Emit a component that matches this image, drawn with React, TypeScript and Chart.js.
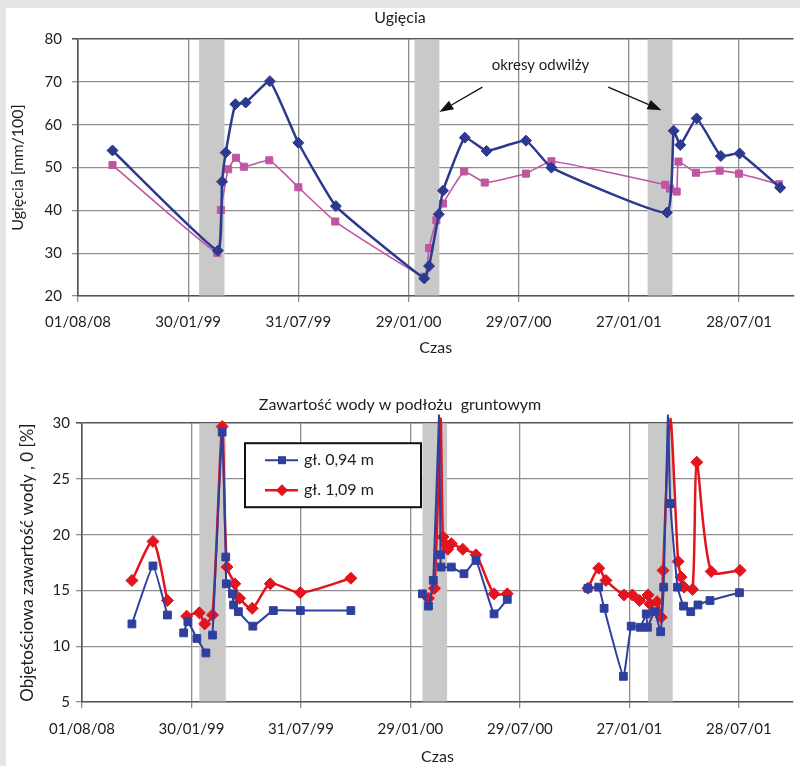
import React, { useEffect, useRef } from 'react';
import { Chart, registerables } from 'chart.js';

Chart.register(...registerables);

// ---------- shared x axis (days since 01/08/98) ----------
const TICK_DAYS = [0, 182, 364, 546, 728, 910, 1092];
const TICK_LABELS = ['01/08/08', '30/01/99', '31/07/99', '29/01/00', '29/07/00', '27/01/01', '28/07/01'];
const X_MAX = 1182;

// ---------- top chart: Ugięcia ----------
const DEFL_BLUE_DAYS = [57, 231, 238, 244, 260, 277, 317, 364, 426, 572, 580, 596, 603, 639, 675, 740, 782, 973, 984, 995, 1022, 1062, 1093, 1160];
const DEFL_BLUE = [54.0, 30.6, 46.7, 53.5, 64.8, 65.2, 70.2, 55.8, 41.0, 24.1, 27.0, 39.1, 44.6, 57.0, 53.9, 56.3, 50.0, 39.5, 58.6, 55.3, 61.5, 52.7, 53.3, 45.3];
const DEFL_PINK_DAYS = [57, 230, 236, 248, 261, 274, 316, 364, 425, 572, 580, 592, 603, 638, 672, 740, 782, 970, 978, 989, 992, 1021, 1060, 1092, 1158];
const DEFL_PINK = [50.6, 30.1, 40.1, 49.6, 52.3, 50.2, 51.7, 45.4, 37.4, 24.5, 31.2, 37.7, 41.6, 49.1, 46.5, 48.6, 51.5, 46.0, 45.1, 44.4, 51.4, 48.8, 49.3, 48.6, 46.1];
const TOP_BAND_START = [200, 556, 941];
const TOP_BAND_END = [242, 597, 982];

// annotation (data units)
const NOTE_TEXT = 'okresy odwilży';
const NOTE_X = 764;
const NOTE_Y = 73.9;
const ARROW_FROM_X = [668, 876];
const ARROW_FROM_Y = [68.8, 68.8];
const ARROW_TO_X = [597, 964];
const ARROW_TO_Y = [63.0, 63.4];

// ---------- bottom chart: Zawartość wody ----------
const WATER_094_DAYS = [83, 118, 142, 155, 169, 176, 191, 206, 211, 217, 233, 239, 240, 250, 252, 260, 284, 318, 363, 447, 500, 566, 576, 584, 593.5, 596, 597, 614, 635, 655, 685, 707, 780, 841, 859, 868, 900, 913, 928, 938, 940, 952, 962, 967, 974, 978, 990, 1000, 1012, 1024, 1044, 1093];
const WATER_094 = [12.0, 17.2, 12.8, null, 11.2, 12.2, 10.7, 9.4, null, 11.0, 29.2, 18.0, 15.6, 14.7, 13.7, 13.1, 11.8, 13.2, 13.2, 13.2, null, 14.7, 13.6, 15.9, 30.7, 18.2, 17.1, 17.1, 16.5, 17.7, 12.9, 14.2, null, 15.2, 15.3, 13.4, 7.3, 11.8, 11.7, 12.9, 11.7, 13.1, 11.3, 15.3, 30.7, 22.8, 15.3, 13.6, 13.1, 13.7, 14.1, 14.8];
const WATER_109_DAYS = [83, 118, 142, 155, 174, 195, 204, 217, 233, 241, 254, 262, 283, 313, 363, 447, 500, 576, 586, 596, 600, 605, 608, 614, 633, 655, 685, 707, 780, 841, 859, 871, 901, 915, 927, 941, 944, 956, 963, 966, 978, 991, 996, 1001, 1015, 1022, 1046, 1094];
const WATER_109 = [15.9, 19.4, 14.1, null, 12.7, 13.0, 12.0, 12.8, 29.7, 17.1, 15.6, 14.3, 13.4, 15.6, 14.8, 16.1, null, 14.3, 15.2, 30.4, 19.8, 19.1, 18.7, 19.2, 18.7, 18.2, 14.7, 14.7, null, 15.2, 17.0, 15.9, 14.6, 14.6, 14.1, 14.6, 13.8, 14.0, 12.6, 16.8, 30.4, 17.6, 16.2, 15.3, 15.1, 26.5, 16.7, 16.8];
const BOT_BAND_START = [195, 566, 941];
const BOT_BAND_END = [239, 607, 982];
const LEGEND_LABELS = ['gł. 0,94 m', 'gł. 1,09 m'];

const FONT = 'Lato, "Open Sans", "DejaVu Sans", sans-serif';
const TEXT = '#1d1d1d';
const GRID = '#8e8e8e';
const BAND = '#c9c9c9';
const BLUE_TOP = '#2c3990';
const PINK = '#c056a2';
const BLUE_BOT = '#2f3f9e';
const RED = '#e2141d';

const pts = (xs: number[], ys: (number | null)[]) => xs.map((x, i) => ({ x, y: ys[i] }));

const bandsPlugin = (starts: number[], ends: number[]) => ({
  id: 'bands',
  beforeDatasetsDraw(chart: any) {
    const { ctx, chartArea } = chart;
    const xs = chart.scales.x;
    ctx.save();
    ctx.fillStyle = BAND;
    starts.forEach((s, i) => {
      const a = xs.getPixelForValue(s);
      const b = xs.getPixelForValue(ends[i]);
      ctx.fillRect(a, chartArea.top + 0.5, b - a, chartArea.bottom - chartArea.top - 1);
    });
    ctx.restore();
  },
});

const notePlugin = {
  id: 'note',
  afterDatasetsDraw(chart: any) {
    const { ctx } = chart;
    const xs = chart.scales.x;
    const ys = chart.scales.y;
    ctx.save();
    ctx.fillStyle = TEXT;
    ctx.font = `15px ${FONT}`;
    ctx.textAlign = 'center';
    ctx.textBaseline = 'middle';
    ctx.fillText(NOTE_TEXT, xs.getPixelForValue(NOTE_X), ys.getPixelForValue(NOTE_Y));
    ctx.strokeStyle = '#111';
    ctx.lineWidth = 1.3;
    ARROW_FROM_X.forEach((fx, i) => {
      const x1 = xs.getPixelForValue(fx);
      const y1 = ys.getPixelForValue(ARROW_FROM_Y[i]);
      const x2 = xs.getPixelForValue(ARROW_TO_X[i]);
      const y2 = ys.getPixelForValue(ARROW_TO_Y[i]);
      const ang = Math.atan2(y2 - y1, x2 - x1);
      const L = 14, W = 5;
      const bx = x2 - L * Math.cos(ang);
      const by = y2 - L * Math.sin(ang);
      ctx.beginPath();
      ctx.moveTo(x1, y1);
      ctx.lineTo(bx, by);
      ctx.stroke();
      ctx.beginPath();
      ctx.moveTo(x2, y2);
      ctx.lineTo(bx + W * Math.sin(ang), by - W * Math.cos(ang));
      ctx.lineTo(bx - W * Math.sin(ang), by + W * Math.cos(ang));
      ctx.closePath();
      ctx.fillStyle = '#111';
      ctx.fill();
    });
    ctx.restore();
  },
};

const legendPlugin = {
  id: 'boxLegend',
  afterDatasetsDraw(chart: any) {
    const { ctx, chartArea } = chart;
    const x0 = chartArea.left + 163;
    const y0 = chartArea.top + 20;
    const w = 176, h = 64;
    ctx.save();
    ctx.fillStyle = '#fff';
    ctx.fillRect(x0, y0, w, h);
    ctx.strokeStyle = '#111';
    ctx.lineWidth = 2;
    ctx.strokeRect(x0, y0, w, h);
    const rows = [
      { color: BLUE_BOT, shape: 'rect', lw: 2 },
      { color: RED, shape: 'diamond', lw: 2.5 },
    ];
    rows.forEach((r, i) => {
      const yy = y0 + 17 + i * 30;
      ctx.strokeStyle = r.color;
      ctx.lineWidth = r.lw;
      ctx.beginPath();
      ctx.moveTo(x0 + 20, yy);
      ctx.lineTo(x0 + 53, yy);
      ctx.stroke();
      ctx.fillStyle = r.color;
      const cx = x0 + 37;
      if (r.shape === 'rect') {
        ctx.fillRect(cx - 4, yy - 4, 8, 8);
      } else {
        ctx.beginPath();
        ctx.moveTo(cx, yy - 6);
        ctx.lineTo(cx + 6, yy);
        ctx.lineTo(cx, yy + 6);
        ctx.lineTo(cx - 6, yy);
        ctx.closePath();
        ctx.fill();
      }
      ctx.fillStyle = TEXT;
      ctx.font = `16px ${FONT}`;
      ctx.textAlign = 'left';
      ctx.textBaseline = 'middle';
      ctx.fillText(LEGEND_LABELS[i], x0 + 59, yy);
    });
    ctx.restore();
  },
};

const xScale = (height: number, titlePadBottom: number, tickPad: number) => ({
  type: 'linear' as const,
  min: 0,
  max: X_MAX,
  afterBuildTicks: (s: any) => {
    s.ticks = TICK_DAYS.map((v) => ({ value: v }));
  },
  afterFit: (s: any) => {
    s.height = height;
  },
  ticks: {
    autoSkip: false,
    maxRotation: 0,
    padding: tickPad,
    color: TEXT,
    font: { family: FONT, size: 15 },
    callback: (v: any) => {
      const i = TICK_DAYS.indexOf(Number(v));
      return i >= 0 ? TICK_LABELS[i] : '';
    },
  },
  grid: { color: GRID, lineWidth: 1.3, tickLength: 6 },
  border: { color: '#555', width: 1.6 },
  title: {
    display: true,
    text: 'Czas',
    color: TEXT,
    font: { family: FONT, size: 16 },
    padding: { top: 0, bottom: titlePadBottom },
  },
});

export default function App() {
  const topRef = useRef<HTMLCanvasElement>(null);
  const botRef = useRef<HTMLCanvasElement>(null);

  useEffect(() => {
    const top = new Chart(topRef.current as HTMLCanvasElement, {
      type: 'line',
      data: {
        datasets: [
          {
            data: pts(DEFL_BLUE_DAYS, DEFL_BLUE) as any,
            borderColor: BLUE_TOP,
            backgroundColor: BLUE_TOP,
            borderWidth: 2.5,
            pointStyle: 'rectRot',
            pointRadius: 5.5,
            pointBorderWidth: 1,
            tension: 0.12,
          },
          {
            data: pts(DEFL_PINK_DAYS, DEFL_PINK) as any,
            borderColor: PINK,
            backgroundColor: PINK,
            borderWidth: 1.6,
            pointStyle: 'rect',
            pointRadius: 5,
            pointBorderWidth: 1,
            tension: 0.12,
          },
        ],
      },
      options: {
        animation: false,
        responsive: true,
        maintainAspectRatio: false,
        layout: { padding: { left: 0, right: 0, top: 0, bottom: 0 } },
        plugins: {
          legend: { display: false },
          tooltip: { enabled: false },
          title: {
            display: true,
            text: 'Ugięcia',
            color: TEXT,
            font: { family: FONT, size: 16, weight: 'normal' },
            padding: { top: 8, bottom: 12 },
          },
        },
        scales: {
          x: xScale(66, 5, 11) as any,
          y: {
            min: 20,
            max: 80,
            afterFit: (s: any) => {
              s.width = 78;
            },
            ticks: { stepSize: 10, padding: 10, color: TEXT, font: { family: FONT, size: 15 } },
            grid: {
              color: (c: any) => (c.tick && c.tick.value === 80 ? '#555' : GRID),
              lineWidth: (c: any) => (c.tick && c.tick.value === 80 ? 1.6 : 1.3),
              tickLength: 6,
            },
            border: { color: '#555', width: 1.6 },
            title: {
              display: true,
              text: 'Ugięcia [mm/100]',
              color: TEXT,
              font: { family: FONT, size: 16 },
              padding: { top: 8, bottom: 0 },
            },
          },
        },
      },
      plugins: [bandsPlugin(TOP_BAND_START, TOP_BAND_END), notePlugin],
    });

    const hideAbove = (r: number) => (c: any) => (c.raw && c.raw.y > 30 ? 0 : r);

    const bot = new Chart(botRef.current as HTMLCanvasElement, {
      type: 'line',
      data: {
        datasets: [
          {
            data: pts(WATER_094_DAYS, WATER_094) as any,
            borderColor: BLUE_BOT,
            backgroundColor: BLUE_BOT,
            borderWidth: 2,
            pointStyle: 'rect',
            pointRadius: hideAbove(5.5) as any,
            pointBorderWidth: 1,
            tension: 0.12,
            clip: { left: 0, top: 10, right: 0, bottom: 0 } as any,
          },
          {
            data: pts(WATER_109_DAYS, WATER_109) as any,
            borderColor: RED,
            backgroundColor: RED,
            borderWidth: 2.5,
            pointStyle: 'rectRot',
            pointRadius: hideAbove(6) as any,
            pointBorderWidth: 1,
            tension: 0.25,
            clip: { left: 0, top: 10, right: 0, bottom: 0 } as any,
          },
        ],
      },
      options: {
        animation: false,
        responsive: true,
        maintainAspectRatio: false,
        layout: { padding: { left: 0, right: 0, top: 0, bottom: 0 } },
        plugins: {
          legend: { display: false },
          tooltip: { enabled: false },
          title: {
            display: true,
            text: 'Zawartość wody w podłożu  gruntowym',
            color: TEXT,
            font: { family: FONT, size: 16, weight: 'normal' },
            padding: { top: 15, bottom: 9 },
          },
        },
        scales: {
          x: xScale(64, 0, 12) as any,
          y: {
            min: 5,
            max: 30,
            afterFit: (s: any) => {
              s.width = 82;
            },
            ticks: { stepSize: 5, padding: 6, color: TEXT, font: { family: FONT, size: 15 } },
            grid: {
              color: (c: any) => (c.tick && c.tick.value === 30 ? '#555' : GRID),
              lineWidth: (c: any) => (c.tick && c.tick.value === 30 ? 1.6 : 1.3),
              tickLength: 6,
            },
            border: { color: '#555', width: 1.6 },
            title: {
              display: true,
              text: 'Objętościowa zawartość wody , 0 [%]',
              color: TEXT,
              font: { family: FONT, size: 17 },
              padding: { top: 17, bottom: 0 },
            },
          },
        },
      },
      plugins: [bandsPlugin(BOT_BAND_START, BOT_BAND_END), legendPlugin],
    });

    return () => {
      top.destroy();
      bot.destroy();
    };
  }, []);

  return (
    <div style={{ position: 'fixed', left: 0, top: 0, width: 800, height: 766, background: '#e4e4e4', overflow: 'hidden' }}>
      <div style={{ position: 'absolute', left: 6, top: 8, right: 0, bottom: 0, background: '#ffffff' }} />
      <div style={{ position: 'absolute', left: 0, top: 0, width: 800, height: 362 }}>
        <canvas ref={topRef} />
      </div>
      <div style={{ position: 'absolute', left: 0, top: 380, width: 800, height: 386 }}>
        <canvas ref={botRef} />
      </div>
    </div>
  );
}
